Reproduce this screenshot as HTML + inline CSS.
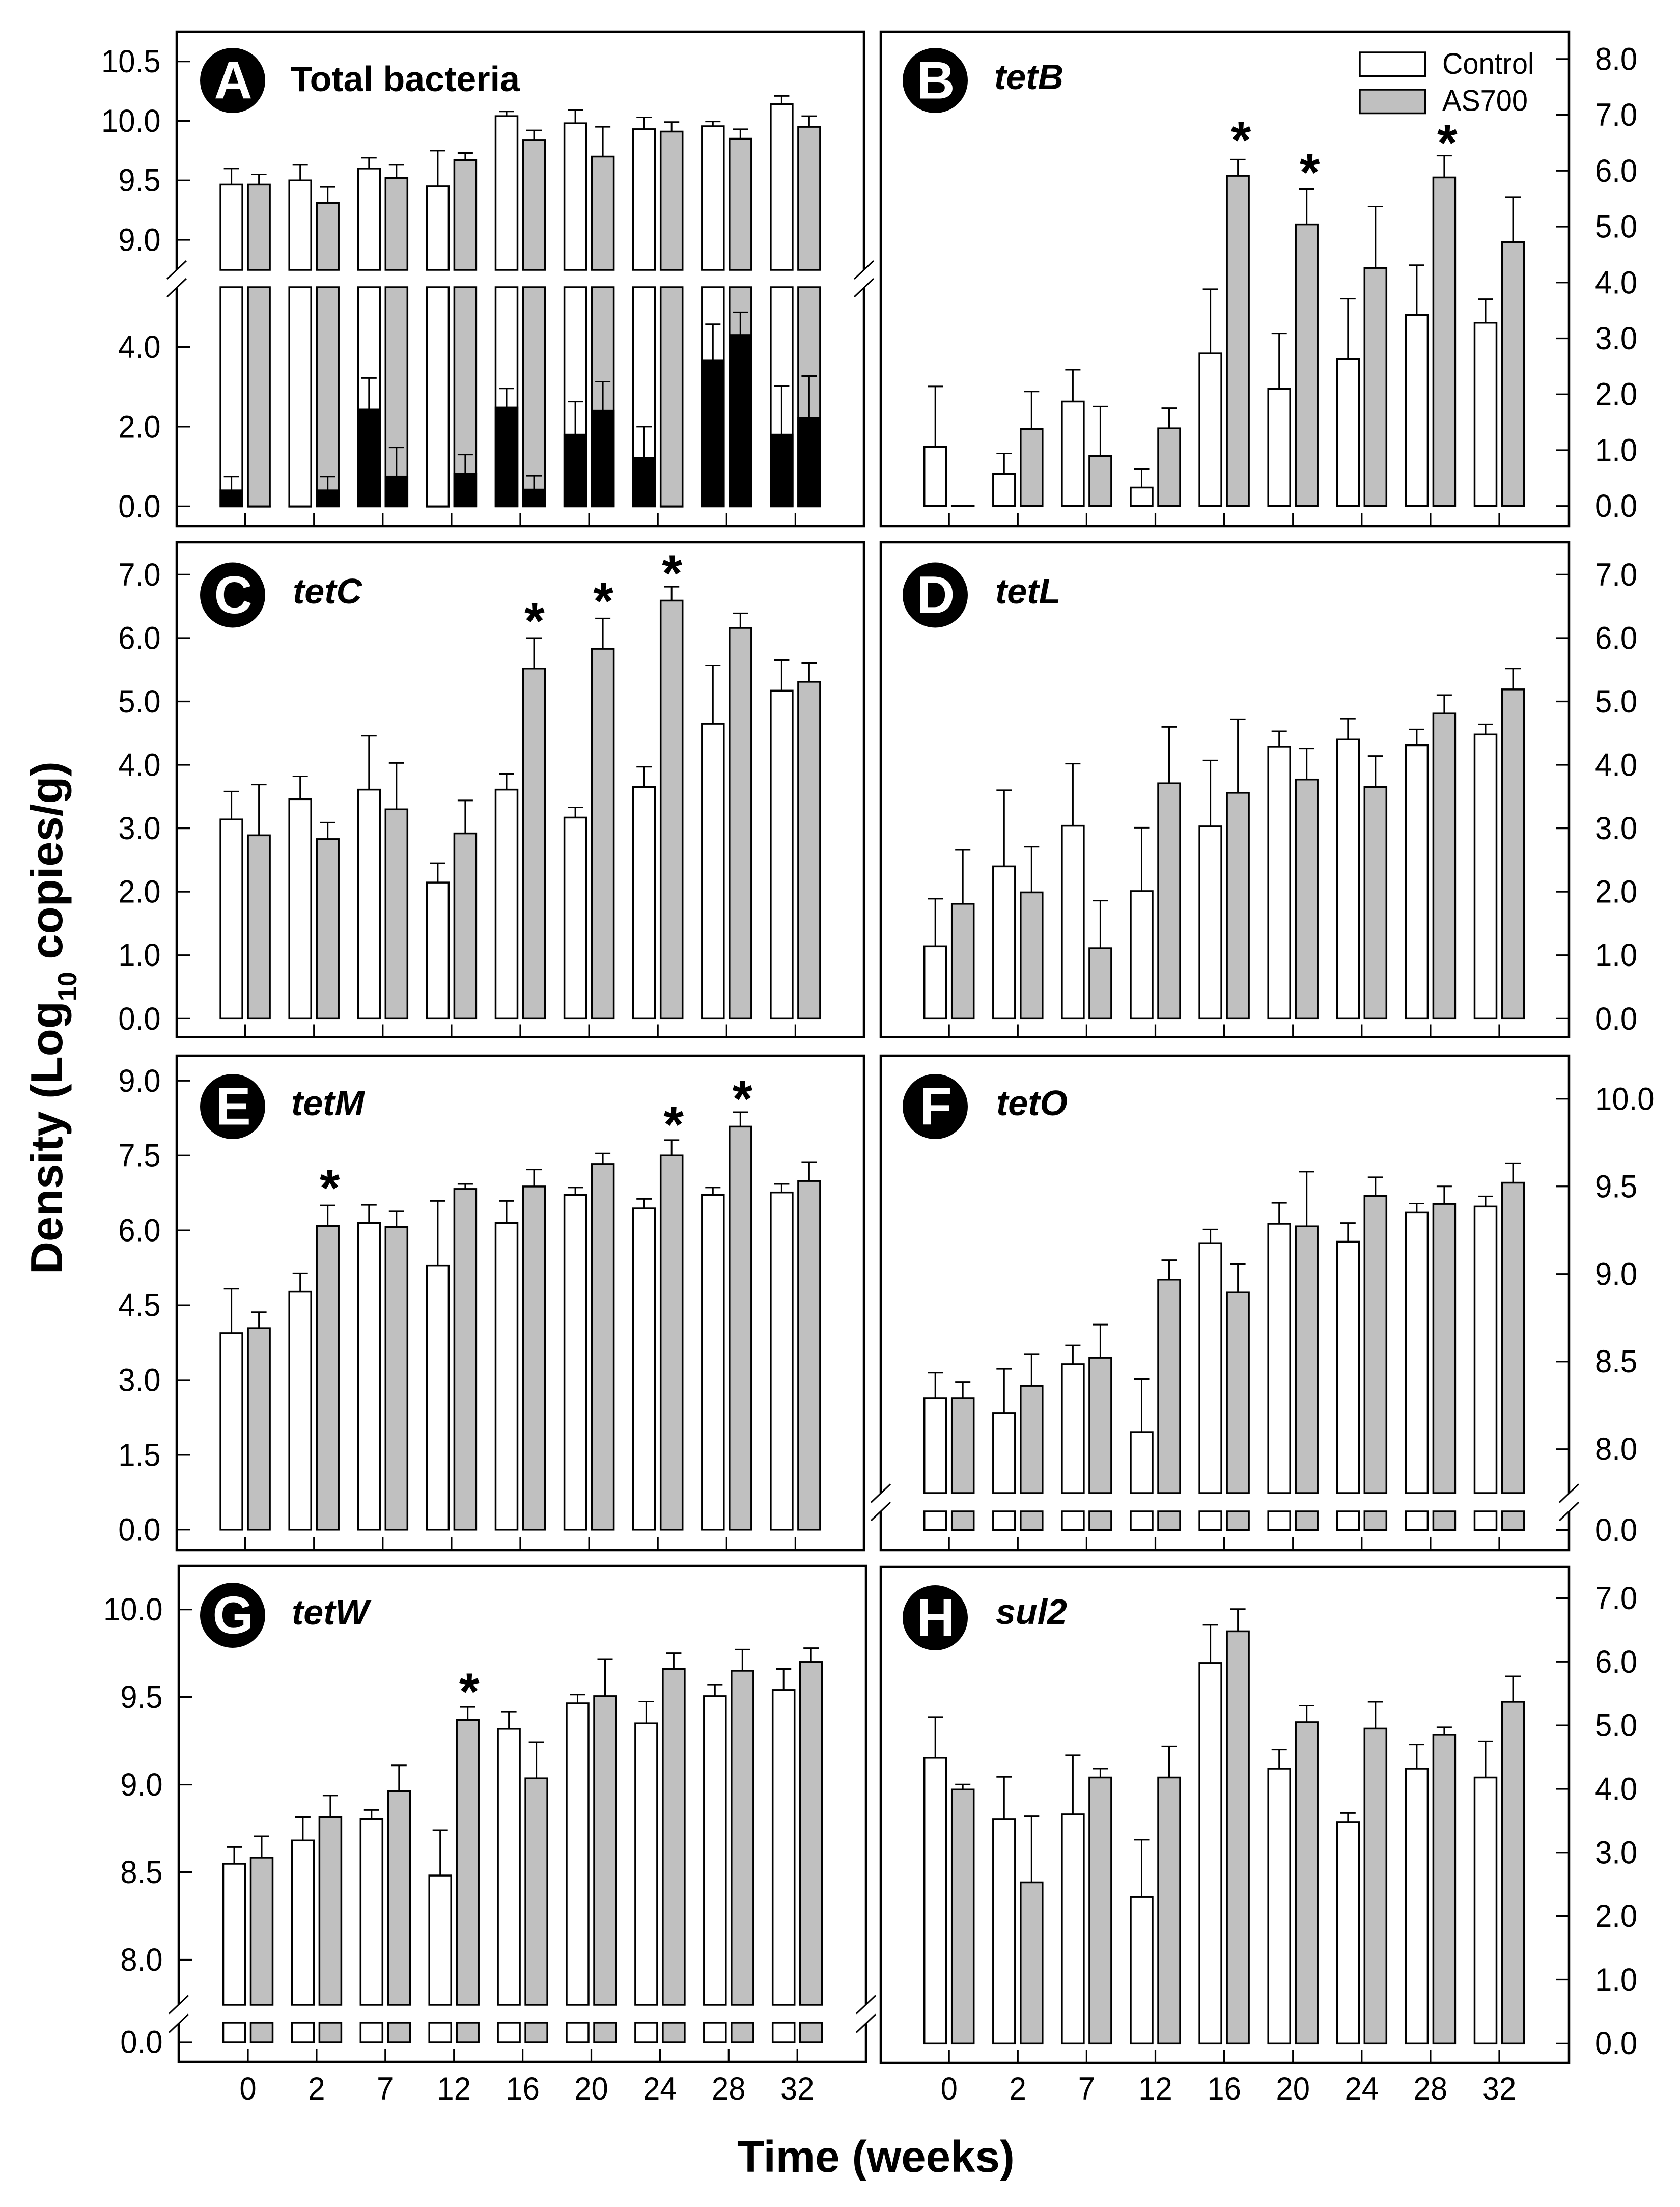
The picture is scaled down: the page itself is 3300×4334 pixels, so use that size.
<!DOCTYPE html>
<html>
<head>
<meta charset="utf-8">
<title>Density of bacteria and resistance genes over time</title>
<style>
html,body{margin:0;padding:0;background:#fff;}
svg{display:block;font-family:"Liberation Sans",Arial,sans-serif;}
</style>
</head>
<body>
<svg id="chart" xmlns="http://www.w3.org/2000/svg" width="3300" height="4334" viewBox="0 0 3300 4334">
<rect x="0" y="0" width="3300" height="4334" fill="#fff"/>
<g id="plots"></g>

<g font-weight="bold" font-size="104" text-anchor="middle">
  <circle cx="457" cy="158" r="64"/><text x="458" y="193.5" fill="#fff">A</text>
  <circle cx="1837" cy="158" r="64"/><text x="1838" y="193.5" fill="#fff">B</text>
  <circle cx="457" cy="1168.5" r="64"/><text x="458" y="1204" fill="#fff">C</text>
  <circle cx="1837" cy="1168.5" r="64"/><text x="1838" y="1204" fill="#fff">D</text>
  <circle cx="457" cy="2173" r="64"/><text x="458" y="2208.5" fill="#fff">E</text>
  <circle cx="1837" cy="2173" r="64"/><text x="1838" y="2208.5" fill="#fff">F</text>
  <circle cx="457" cy="3172" r="64"/><text x="458" y="3207.5" fill="#fff">G</text>
  <circle cx="1837" cy="3177" r="64"/><text x="1838" y="3212.5" fill="#fff">H</text>
</g>

<g font-weight="bold" font-size="70">
  <text x="571" y="179">Total bacteria</text>
  <g font-style="italic">
    <text x="1953" y="175">tetB</text>
    <text x="575" y="1185">tetC</text>
    <text x="1955" y="1185">tetL</text>
    <text x="572" y="2190">tetM</text>
    <text x="1957" y="2190">tetO</text>
    <text x="573" y="3190">tetW</text>
    <text x="1956" y="3189">sul2</text>
  </g>
</g>

<g font-size="58">
  <rect x="2671" y="103" width="128.5" height="46.5" fill="#fff" stroke="#000" stroke-width="3.5"/>
  <text transform="translate(2833,145) scale(.965,1)">Control</text>
  <rect x="2671" y="176" width="128.5" height="46.5" fill="#c0c0c0" stroke="#000" stroke-width="3.5"/>
  <text transform="translate(2833,217.5) scale(.965,1)">AS700</text>
</g>

<text transform="translate(122,2502) rotate(-90)" font-weight="bold" font-size="88.5">Density (Log<tspan font-size="52" dy="28">10</tspan><tspan dy="-28"> copies/g)</tspan></text>
<text x="1448" y="4265" font-weight="bold" font-size="87">Time (weeks)</text>
</svg>

<script>
// Categories
const categories = ['0','2','7','12','16','20','24','28','32'];

// Panel A: Total bacteria
const aControl = [9.465,9.50,9.60,9.45,10.04,9.98,9.93,9.955,10.14];
const aControlTop = [9.60,9.63,9.69,9.75,10.08,10.09,10.03,9.995,10.21];
const aAS700 = [9.465,9.31,9.52,9.67,9.84,9.70,9.91,9.85,9.95];
const aAS700Top = [9.55,9.445,9.63,9.73,9.92,9.95,9.99,9.93,10.04];
const aBlackControl = [0.40,0,2.43,0,2.48,1.80,1.22,3.67,1.80];
const aBlackControlTop = [0.75,0,3.22,0,2.96,2.63,2.00,4.57,3.02];
const aBlackAS700 = [0,0.40,0.75,0.82,0.42,2.40,0,4.30,2.23];
const aBlackAS700Top = [0,0.75,1.48,1.30,0.77,3.13,0,4.87,3.27];
const aTicksUpper = ['9.0','9.5','10.0','10.5'];
const aTicksLower = ['0.0','2.0','4.0'];

// Panel B: tetB
const bControl = [1.06,0.575,1.87,0.33,2.73,2.10,2.63,3.42,3.28];
const bControlTop = [2.14,0.94,2.44,0.66,3.88,3.09,3.71,4.31,3.70];
const bAS700 = [0,1.38,0.895,1.39,5.91,5.04,4.26,5.88,4.72];
const bAS700Top = [0,2.05,1.78,1.75,6.20,5.67,5.36,6.27,5.53];
const bStars = [4,5,7];
const bStarLevels = [6.64,6.06,6.59];
const bTicks = ['0.0','1.0','2.0','3.0','4.0','5.0','6.0','7.0','8.0'];

// Panel C: tetC
const cControl = [3.14,3.46,3.61,2.145,3.61,3.17,3.65,4.65,5.17];
const cControlTop = [3.58,3.82,4.46,2.45,3.86,3.33,3.97,5.57,5.65];
const cAS700 = [2.89,2.83,3.30,2.92,5.52,5.83,6.59,6.16,5.31];
const cAS700Top = [3.69,3.09,4.03,3.44,6.00,6.31,6.81,6.39,5.61];
const cStars = [4,5,6];
const cStarLevels = [6.35,6.66,7.10];
const cTicks = ['0.0','1.0','2.0','3.0','4.0','5.0','6.0','7.0'];

// Panel D: tetL
const dControl = [1.14,2.40,3.04,2.01,3.03,4.29,4.40,4.31,4.48];
const dControlTop = [1.89,3.60,4.02,3.01,4.07,4.53,4.73,4.56,4.64];
const dAS700 = [1.81,1.99,1.11,3.71,3.56,3.77,3.65,4.81,5.19];
const dAS700Top = [2.66,2.71,1.86,4.60,4.72,4.26,4.14,5.10,5.52];
const dTicks = ['0.0','1.0','2.0','3.0','4.0','5.0','6.0','7.0'];

// Panel E: tetM
const eControl = [3.94,4.77,6.15,5.29,6.15,6.71,6.44,6.71,6.76];
const eControlTop = [4.83,5.14,6.51,6.59,6.59,6.86,6.63,6.86,6.93];
const eAS700 = [4.04,6.09,6.07,6.83,6.88,7.33,7.50,8.08,6.99];
const eAS700Top = [4.36,6.50,6.38,6.93,7.22,7.54,7.81,8.37,7.37];
const eStars = [1,6,7];
const eStarLevels = [6.95,8.22,8.74];
const eTicks = ['0.0','1.5','3.0','4.5','6.0','7.5','9.0'];

// Panel F: tetO
const fControl = [8.29,8.206,8.485,8.095,9.176,9.287,9.184,9.35,9.385];
const fControlTop = [8.436,8.458,8.592,8.40,9.254,9.406,9.291,9.402,9.443];
const fAS700 = [8.29,8.362,8.522,8.968,8.894,9.272,9.445,9.40,9.521];
const fAS700Top = [8.384,8.543,8.711,9.079,9.056,9.584,9.552,9.50,9.632];
const fTicksUpper = ['8.0','8.5','9.0','9.5','10.0'];
const fTicksLower = ['0.0'];

// Panel G: tetW
const gControl = [8.548,8.681,8.802,8.481,9.319,9.464,9.35,9.505,9.54];
const gControlTop = [8.643,8.814,8.855,8.74,9.417,9.514,9.474,9.571,9.66];
const gAS700 = [8.583,8.814,8.962,9.369,9.036,9.505,9.66,9.65,9.70];
const gAS700Top = [8.705,8.938,9.11,9.443,9.243,9.717,9.75,9.771,9.779];
const gStars = [3];
const gStarLevels = [9.56];
const gTicksUpper = ['8.0','8.5','9.0','9.5','10.0'];
const gTicksLower = ['0.0'];

// Panel H: sul2
const hControl = [4.49,3.52,3.60,2.30,5.98,4.32,3.48,4.32,4.18];
const hControlTop = [5.13,4.19,4.53,3.20,6.58,4.62,3.62,4.70,4.75];
const hAS700 = [3.99,2.53,4.18,4.18,6.48,5.05,4.95,4.85,5.37];
const hAS700Top = [4.07,3.57,4.32,4.67,6.83,5.31,5.37,4.97,5.77];
const hTicks = ['0.0','1.0','2.0','3.0','4.0','5.0','6.0','7.0'];

const NS = 'http://www.w3.org/2000/svg';
const plots = document.getElementById('plots');
const GRAY = '#c0c0c0';

function mk(tag, attrs, parent) {
  const e = document.createElementNS(NS, tag);
  for (const k in attrs) e.setAttribute(k, attrs[k]);
  parent.appendChild(e);
  return e;
}
function linear(v0, p0, v1, p1) {
  return function (v) { return p0 + (v - v0) * (p1 - p0) / (v1 - v0); };
}

function errorBar(g, cx, yFrom, yTo) {
  if (Math.abs(yFrom - yTo) < 0.01) return;
  const stem = mk('line', {x1: cx, x2: cx, y1: yFrom, y2: yTo, stroke: '#000', 'stroke-width': 3}, g);
  
  
  const cap = mk('line', {x1: cx - 15, x2: cx + 15, y1: yTo, y2: yTo, stroke: '#000', 'stroke-width': 3}, g);
  
  
}

function bar(g, x, w, yTop, yBottom, fill) {
  const r = mk('rect', {x: x, y: yTop, width: w, height: Math.max(yBottom - yTop, 0.5), fill: fill, stroke: '#000', 'stroke-width': 3.5}, g);
  
  
  return r;
}

function breakMark(g, x, y1, y2) {
  const gap = mk('rect', {x: x - 5, y: y1, width: 10, height: y2 - y1, fill: '#fff'}, g);
  
  
  [y1, y2].forEach(function (y) {
    const s = mk('line', {x1: x - 19, y1: y + 18, x2: x + 19, y2: y - 18, stroke: '#000', 'stroke-width': 3}, g);
    
    
  });
}

function tick(g, p, label, y) {
  const onLeft = p.side === 'left';
  const edge = onLeft ? p.left : p.right;
  const dir = onLeft ? 1 : -1;
  const t = mk('line', {x1: edge, x2: edge + dir * 26, y1: y, y2: y, stroke: '#000', 'stroke-width': 3.2}, g);
  
  
  const lx = onLeft ? p.left - 31.5 : 3133;
  const txt = mk('text', {
    transform: 'translate(' + lx + ',' + (y + 21.5) + ') scale(.95,1)', 'font-size': 63,
    'text-anchor': onLeft ? 'end' : 'start'
  }, g);
  txt.textContent = label;
  
  
}

function drawPanel(p) {
  const g = mk('g', {}, plots);
  
  

  const frame = mk('rect', {x: p.left, y: p.top, width: p.right - p.left, height: p.bottom - p.top, fill: 'none', stroke: '#000', 'stroke-width': 4.5}, g);
  
  

  const xs = function (i) { return p.x0 + i * p.step; };
  const yU = p.yUpper;
  const yL = p.yLower;

  // y ticks
  (p.ticksUpper || []).forEach(function (lab) { tick(g, p, lab, yU(parseFloat(lab))); });
  (p.ticksLower || []).forEach(function (lab) { tick(g, p, lab, yL(parseFloat(lab))); });

  // x ticks
  categories.forEach(function (c, i) {
    const t = mk('line', {x1: xs(i), x2: xs(i), y1: p.bottom, y2: p.bottom - 25, stroke: '#000', 'stroke-width': 3.2}, g);
    
    
    if (p.xLabels) {
      const l = mk('text', {transform: 'translate(' + xs(i) + ',4123) scale(.95,1)', 'font-size': 63, 'text-anchor': 'middle'}, g);
      l.textContent = c;
      
      
    }
  });

  // series
  const barW = 43;
  const baseY = p.base !== undefined ? p.base : yU(0);
  [
    {vals: p.control, tops: p.controlTop, fill: '#fff', dx: -27, black: p.blackControl, blackTop: p.blackControlTop},
    {vals: p.as700, tops: p.as700Top, fill: GRAY, dx: 27, black: p.blackAS700, blackTop: p.blackAS700Top}
  ].forEach(function (s) {
    s.vals.forEach(function (v, i) {
      const cx = xs(i) + s.dx;
      const x = cx - barW / 2;
      errorBar(g, cx, yU(v), yU(s.tops[i]));
      bar(g, x, barW, yU(v), baseY, s.fill);
      if (yL) {
        bar(g, x, barW, p.lowerTop, yL(0), s.fill);
        if (s.black) {
          errorBar(g, cx, yL(s.black[i]), yL(s.blackTop[i]));
          bar(g, x, barW, yL(s.black[i]), yL(0), '#000');
        }
      }
    });
  });

  // significance stars
  (p.stars || []).forEach(function (i, k) {
    const cx = xs(i) + 27 + p.starDx;
    const cy = yU(p.starLevels[k]);
    const st = mk('text', {x: cx, y: cy + 45, 'font-size': 102, 'font-weight': 'bold', 'text-anchor': 'middle'}, g);
    st.textContent = '*';
    
    
  });

  if (p.breaks) {
    breakMark(g, p.left, p.breaks[0], p.breaks[1]);
    breakMark(g, p.right, p.breaks[0], p.breaks[1]);
  }
}

const leftA = {left: 347, right: 1697, side: 'left', x0: 481.6, step: 135.1};
const rightB = {left: 1730, right: 3082, side: 'right', x0: 1864.2, step: 135.1};

drawPanel(Object.assign({}, leftA, {
  top: 62, bottom: 1033,
  control: aControl, controlTop: aControlTop, as700: aAS700, as700Top: aAS700Top,
  blackControl: aBlackControl, blackControlTop: aBlackControlTop,
  blackAS700: aBlackAS700, blackAS700Top: aBlackAS700Top,
  yUpper: linear(9, 471, 10.5, 120.7), yLower: linear(0, 994.4, 4, 681.4),
  base: 530, lowerTop: 564, breaks: [530, 565],
  ticksUpper: aTicksUpper, ticksLower: aTicksLower
}));
drawPanel(Object.assign({}, rightB, {
  top: 62, bottom: 1033,
  control: bControl, controlTop: bControlTop, as700: bAS700, as700Top: bAS700Top,
  stars: bStars, starLevels: bStarLevels, starDx: 6,
  yUpper: linear(0, 993.7, 8, 115.8), ticksUpper: bTicks
}));
drawPanel(Object.assign({}, leftA, {
  top: 1065, bottom: 2036.5,
  control: cControl, controlTop: cControlTop, as700: cAS700, as700Top: cAS700Top,
  stars: cStars, starLevels: cStarLevels, starDx: 1,
  yUpper: linear(0, 2000.3, 7, 1128.4), ticksUpper: cTicks
}));
drawPanel(Object.assign({}, rightB, {
  top: 1065, bottom: 2036.5,
  control: dControl, controlTop: dControlTop, as700: dAS700, as700Top: dAS700Top,
  yUpper: linear(0, 2000.3, 7, 1128.4), ticksUpper: dTicks
}));
drawPanel(Object.assign({}, leftA, {
  top: 2073, bottom: 3044,
  control: eControl, controlTop: eControlTop, as700: eAS700, as700Top: eAS700Top,
  stars: eStars, starLevels: eStarLevels, starDx: 4,
  yUpper: linear(0, 3003.8, 9, 2122.3), ticksUpper: eTicks
}));
drawPanel(Object.assign({}, rightB, {
  top: 2073, bottom: 3044,
  control: fControl, controlTop: fControlTop, as700: fAS700, as700Top: fAS700Top,
  yUpper: linear(8, 2845.7, 10, 2157.8), yLower: linear(0, 3004.5, 1, 2660),
  base: 2932, lowerTop: 2968, breaks: [2932.5, 2968],
  ticksUpper: fTicksUpper, ticksLower: fTicksLower
}));
drawPanel({
  left: 351, right: 1701, side: 'left', x0: 487, step: 134.9,
  top: 3075, bottom: 4049, xLabels: true,
  control: gControl, controlTop: gControlTop, as700: gAS700, as700Top: gAS700Top,
  stars: gStars, starLevels: gStarLevels, starDx: 3,
  yUpper: linear(8, 3848.5, 10, 3160.6), yLower: linear(0, 4010, 1, 3666),
  base: 3937, lowerTop: 3972, breaks: [3936.5, 3973.5],
  ticksUpper: gTicksUpper, ticksLower: gTicksLower
});
drawPanel(Object.assign({}, rightB, {
  top: 3077, bottom: 4051, xLabels: true,
  control: hControl, controlTop: hControlTop, as700: hAS700, as700Top: hAS700Top,
  yUpper: linear(0, 4012.3, 7, 3138.5), ticksUpper: hTicks
}));
</script>
</body>
</html>
